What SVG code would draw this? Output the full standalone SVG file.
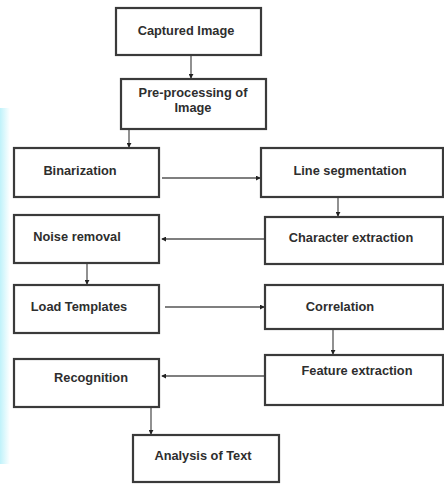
<svg xmlns="http://www.w3.org/2000/svg" width="444" height="484" viewBox="0 0 444 484">
<defs>
<style>
.box{fill:#fff;stroke:#3a3a3a;stroke-width:2.2}
.t{font-family:"Liberation Sans",Arial,sans-serif;font-weight:bold;font-size:12.8px;fill:#2e2e2e;text-anchor:middle}
.c{stroke:#555;stroke-width:1.3;fill:none;marker-end:url(#ah)}
</style>
<marker id="ah" viewBox="0 0 6 6" refX="5" refY="3" markerWidth="5" markerHeight="5" orient="auto" markerUnits="userSpaceOnUse">
<path d="M0,0 L6,3 L0,6 z" fill="#222"/>
</marker>
<linearGradient id="cy" x1="0" y1="0" x2="1" y2="0">
<stop offset="0" stop-color="#bff2fa"/>
<stop offset="1" stop-color="#bff2fa" stop-opacity="0"/>
</linearGradient>
</defs>
<rect width="444" height="484" fill="#fff"/>
<rect x="0" y="108" width="10" height="356" fill="url(#cy)"/>
<g id="connectors">
<line class="c" x1="191" y1="55" x2="191" y2="78"/>
<line class="c" x1="129" y1="129" x2="129" y2="147"/>
<line class="c" x1="162" y1="178" x2="260" y2="178"/>
<line class="c" x1="338" y1="197" x2="338" y2="216"/>
<line class="c" x1="265" y1="239" x2="162" y2="239"/>
<line class="c" x1="87" y1="263" x2="87" y2="284"/>
<line class="c" x1="165" y1="307" x2="264" y2="307"/>
<line class="c" x1="333" y1="329" x2="333" y2="354"/>
<line class="c" x1="265" y1="376" x2="162" y2="376"/>
<line class="c" x1="151" y1="407" x2="151" y2="434"/>
</g>
<g id="captured"><rect class="box" x="116" y="8" width="145" height="47"/><text class="t" x="186" y="35">Captured Image</text></g>
<g id="preprocessing"><rect class="box" x="121" y="79" width="145" height="50"/><text class="t" x="193" y="97">Pre-processing of</text><text class="t" x="193" y="112">Image</text></g>
<g id="binarization"><rect class="box" x="14" y="148" width="145" height="49"/><text class="t" x="80" y="175">Binarization</text></g>
<g id="lineseg"><rect class="box" x="261" y="148" width="182" height="49"/><text class="t" x="350" y="175">Line segmentation</text></g>
<g id="noise"><rect class="box" x="14" y="215" width="145" height="48"/><text class="t" x="77" y="241">Noise removal</text></g>
<g id="charext"><rect class="box" x="265" y="217" width="178" height="47"/><text class="t" x="351" y="242">Character extraction</text></g>
<g id="load"><rect class="box" x="14" y="285" width="145" height="48"/><text class="t" x="79" y="311">Load Templates</text></g>
<g id="correlation"><rect class="box" x="265" y="285" width="178" height="44"/><text class="t" x="340" y="311">Correlation</text></g>
<g id="feature"><rect class="box" x="265" y="355" width="178" height="50"/><text class="t" x="357" y="375">Feature extraction</text></g>
<g id="recognition"><rect class="box" x="14" y="359" width="145" height="48"/><text class="t" x="91" y="382">Recognition</text></g>
<g id="analysis"><rect class="box" x="133" y="435" width="146" height="47"/><text class="t" x="203" y="460">Analysis of Text</text></g>
</svg>
